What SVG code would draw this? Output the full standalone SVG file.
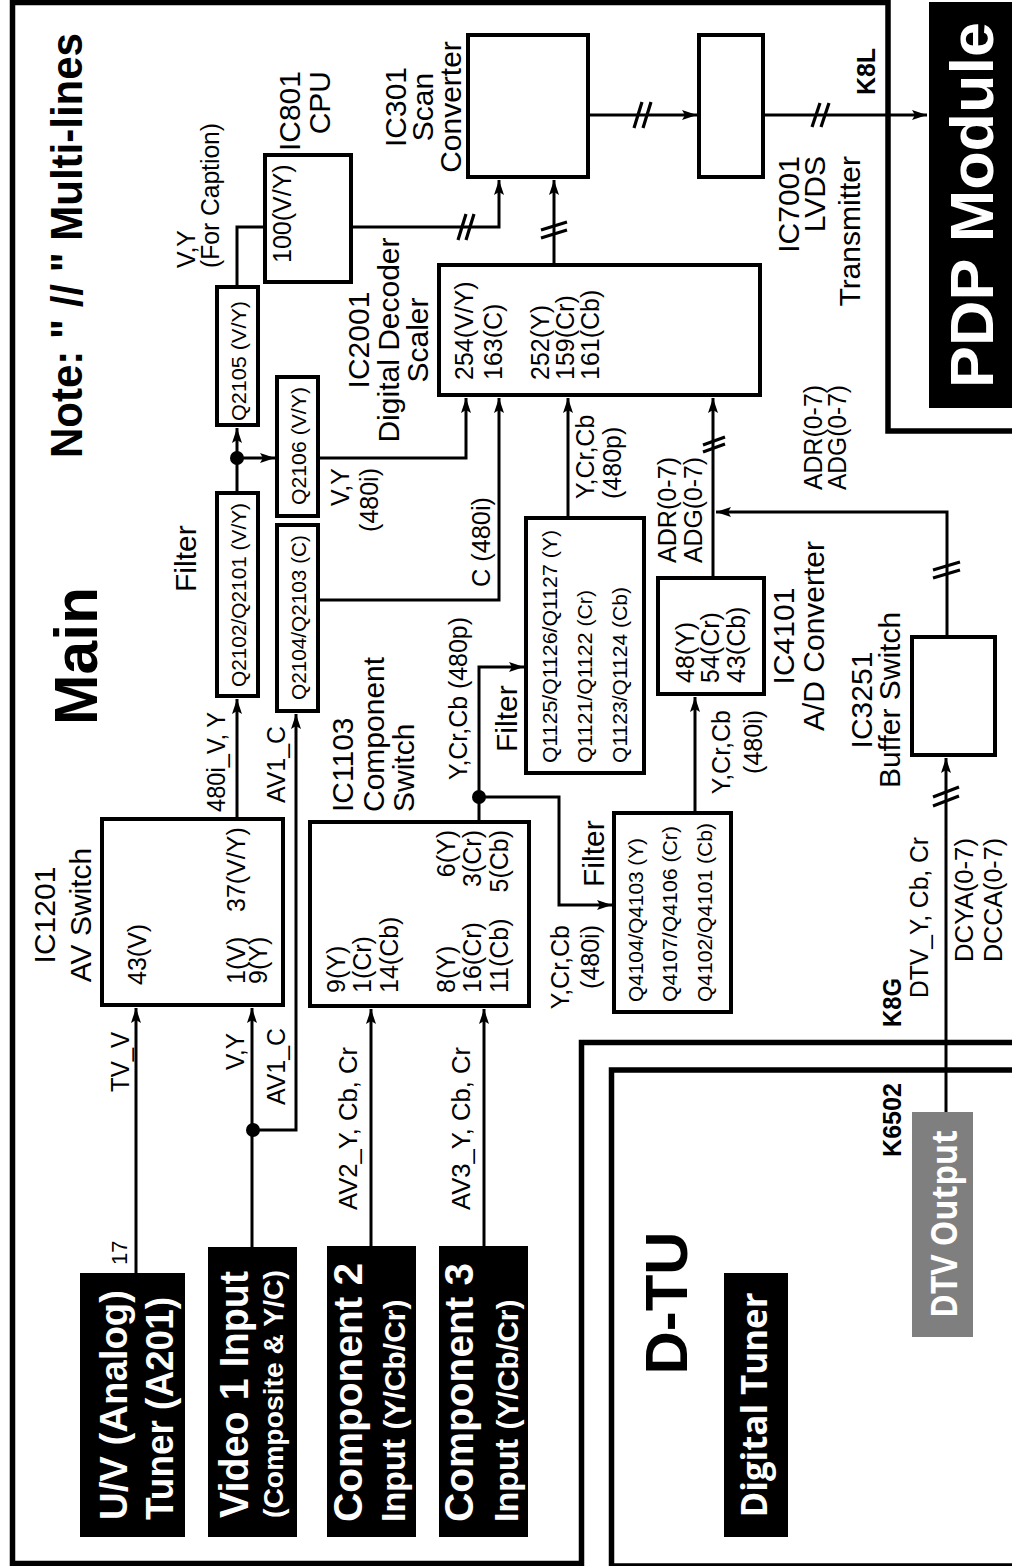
<svg xmlns="http://www.w3.org/2000/svg" width="1012" height="1566" viewBox="0 0 1012 1566">
<defs>
<style>
text { font-family: "Liberation Sans", Arial, Helvetica, sans-serif; fill: #000; }
.os { font-family: "Open Sans", "Liberation Sans", Arial, sans-serif; }
.n30 { font-size: 30px; }
.s25 { font-size: 25px; }
.q21 { font-size: 21px; }
.b { font-weight: bold; }
.w { fill: #fff; }
.m { text-anchor: middle; }
.e { text-anchor: end; }
.box { fill: #fff; stroke: #000; stroke-width: 4; }
.blk { fill: #000; }
.gry { fill: #7f7f7f; }
.ln { fill: none; stroke: #000; stroke-width: 3; }
.arr { marker-end: url(#ah); }
.sl { fill: none; stroke: #000; stroke-width: 3.2; }
.frame { fill: none; stroke: #000; stroke-width: 5.5; }
.dot { fill: #000; }
</style>
<marker id="ah" viewBox="0 0 15 10" refX="15" refY="5" markerWidth="15" markerHeight="10" markerUnits="userSpaceOnUse" orient="auto">
<path d="M0,0 L15,5 L0,10 L3,5 Z" fill="#000"/>
</marker>
</defs>
<rect x="0" y="0" width="1012" height="1566" fill="#fff"/>

<g id="frames">
<path class="frame" d="M1020,431 H888 V2.5 H12.5 V1563.5 H581.5 V1042.5 H1020"/>
<path class="frame" d="M1020,1070 H611.5 V1566 H1020"/>
</g>

<g id="titles">
<text class="b" font-size="44" transform="translate(82 458) rotate(-90)" textLength="425" lengthAdjust="spacingAndGlyphs">Note: " // " Multi-lines</text>
<text class="b m" font-size="62" transform="translate(97 656) rotate(-90)" textLength="138" lengthAdjust="spacingAndGlyphs">Main</text>
<text class="b m" font-size="60" transform="translate(687 1303) rotate(-90)" textLength="143" lengthAdjust="spacingAndGlyphs">D-TU</text>
</g>

<g id="pdp-module">
<rect class="blk" x="929" y="2" width="90" height="406"/>
<text class="b w m" font-size="62" transform="translate(993 205) rotate(-90)" textLength="366" lengthAdjust="spacingAndGlyphs">PDP Module</text>
</g>

<g id="digital-tuner">
<rect class="blk" x="724" y="1273" width="64" height="264"/>
<text class="b w m os" font-size="36" transform="translate(767 1405) rotate(-90)" textLength="225" lengthAdjust="spacingAndGlyphs">Digital Tuner</text>
</g>

<g id="dtv-output">
<rect class="gry" x="912" y="1112" width="61" height="225"/>
<text class="b w m os" font-size="36" transform="translate(957 1224) rotate(-90)" textLength="188" lengthAdjust="spacingAndGlyphs">DTV Output</text>
</g>

<g id="uv-tuner">
<rect class="blk" x="80" y="1273" width="105" height="264"/>
<text class="b w" font-size="38" transform="translate(127 1520) rotate(-90)" textLength="230" lengthAdjust="spacingAndGlyphs">U/V (Analog)</text>
<text class="b w" font-size="38" transform="translate(173 1520) rotate(-90)" textLength="223" lengthAdjust="spacingAndGlyphs">Tuner (A201)</text>
</g>

<g id="video1-input">
<rect class="blk" x="208" y="1247" width="89" height="290"/>
<text class="b w" font-size="40" transform="translate(248 1518) rotate(-90)" textLength="247" lengthAdjust="spacingAndGlyphs">Video 1 Input</text>
<text class="b w" font-size="28" transform="translate(283 1518) rotate(-90)" textLength="248" lengthAdjust="spacingAndGlyphs">(Composite &amp; Y/C)</text>
</g>

<g id="component2-input">
<rect class="blk" x="327" y="1246" width="89" height="291"/>
<text class="b w" font-size="40" transform="translate(362 1522) rotate(-90)" textLength="259" lengthAdjust="spacingAndGlyphs">Component 2</text>
<text class="b w" transform="translate(405 1522) rotate(-90)"><tspan font-size="34">Input </tspan><tspan font-size="30">(Y/Cb/Cr)</tspan></text>
</g>

<g id="component3-input">
<rect class="blk" x="439" y="1246" width="89" height="291"/>
<text class="b w" font-size="40" transform="translate(473 1522) rotate(-90)" textLength="259" lengthAdjust="spacingAndGlyphs">Component 3</text>
<text class="b w" transform="translate(518 1522) rotate(-90)"><tspan font-size="34">Input </tspan><tspan font-size="30">(Y/Cb/Cr)</tspan></text>
</g>

<g id="ic1201">
<rect class="box" x="102" y="819" width="181" height="186"/>
<text class="n30 m" transform="translate(55 915) rotate(-90)">IC1201</text>
<text class="n30 m" transform="translate(91 915) rotate(-90)">AV Switch</text>
<text class="s25" transform="translate(146 985) rotate(-90)">43(V)</text>
<text class="s25" transform="translate(245 984) rotate(-90)">1(V)</text>
<text class="s25" transform="translate(267 984) rotate(-90)">9(Y)</text>
<text class="s25" transform="translate(245 912) rotate(-90)">37(V/Y)</text>
</g>

<g id="ic1103">
<rect class="box" x="310" y="822" width="219" height="184"/>
<text class="n30" transform="translate(353 812) rotate(-90)">IC1103</text>
<text class="n30" transform="translate(384 812) rotate(-90)">Component</text>
<text class="n30" transform="translate(414 812) rotate(-90)">Switch</text>
<text class="s25" transform="translate(345 993) rotate(-90)">9(Y)</text>
<text class="s25" transform="translate(371 993) rotate(-90)">1(Cr)</text>
<text class="s25" transform="translate(398 993) rotate(-90)">14(Cb)</text>
<text class="s25" transform="translate(455 993) rotate(-90)">8(Y)</text>
<text class="s25" transform="translate(481 993) rotate(-90)">16(Cr)</text>
<text class="s25" transform="translate(508 993) rotate(-90)">11(Cb)</text>
<text class="s25 e" transform="translate(455 830) rotate(-90)">6(Y)</text>
<text class="s25 e" transform="translate(481 830) rotate(-90)">3(Cr)</text>
<text class="s25 e" transform="translate(508 830) rotate(-90)">5(Cb)</text>
</g>

<g id="q2102">
<rect class="box" x="217" y="493" width="41" height="203"/>
<text class="q21" transform="translate(246 687) rotate(-90)" textLength="184" lengthAdjust="spacingAndGlyphs">Q2102/Q2101 (V/Y)</text>
<text class="n30" transform="translate(196 592) rotate(-90)">Filter</text>
</g>

<g id="q2104">
<rect class="box" x="277" y="525" width="41" height="186"/>
<text class="q21" transform="translate(306 700) rotate(-90)" textLength="165" lengthAdjust="spacingAndGlyphs">Q2104/Q2103 (C)</text>
</g>

<g id="q2105">
<rect class="box" x="217" y="287" width="41" height="138"/>
<text class="q21" transform="translate(246 421) rotate(-90)" textLength="120" lengthAdjust="spacingAndGlyphs">Q2105 (V/Y)</text>
</g>

<g id="q2106">
<rect class="box" x="277" y="377" width="41" height="139"/>
<text class="q21" transform="translate(306 505) rotate(-90)" textLength="118" lengthAdjust="spacingAndGlyphs">Q2106 (V/Y)</text>
</g>

<g id="ic801">
<rect class="box" x="265" y="155" width="86" height="127"/>
<text class="n30 e" transform="translate(300 71) rotate(-90)">IC801</text>
<text class="n30 e" transform="translate(330 71) rotate(-90)">CPU</text>
<text class="s25" transform="translate(291 263) rotate(-90)">100(V/Y)</text>
</g>

<g id="ic2001">
<rect class="box" x="439" y="265" width="321" height="130"/>
<text class="n30 m" transform="translate(369 340) rotate(-90)">IC2001</text>
<text class="n30 m" transform="translate(399 340) rotate(-90)">Digital Decoder</text>
<text class="n30 m" transform="translate(428 340) rotate(-90)">Scaler</text>
<text class="s25" transform="translate(473 380) rotate(-90)">254(V/Y)</text>
<text class="s25" transform="translate(502 380) rotate(-90)">163(C)</text>
<text class="s25" transform="translate(549 380) rotate(-90)">252(Y)</text>
<text class="s25" transform="translate(574 380) rotate(-90)">159(Cr)</text>
<text class="s25" transform="translate(599 380) rotate(-90)">161(Cb)</text>
</g>

<g id="ic301">
<rect class="box" x="468" y="35" width="120" height="142"/>
<text class="n30 m" transform="translate(406 107) rotate(-90)">IC301</text>
<text class="n30 m" transform="translate(433 107) rotate(-90)">Scan</text>
<text class="n30 m" transform="translate(461 107) rotate(-90)">Converter</text>
</g>

<g id="ic7001">
<rect class="box" x="699" y="35" width="64" height="142"/>
<text class="n30 e" transform="translate(799 156) rotate(-90)">IC7001</text>
<text class="n30 e" transform="translate(825 156) rotate(-90)">LVDS</text>
<text class="n30 e" transform="translate(860 156) rotate(-90)">Transmitter</text>
</g>

<g id="q1125">
<rect class="box" x="526" y="518" width="118" height="255"/>
<text class="q21" transform="translate(557 763) rotate(-90)" textLength="233" lengthAdjust="spacingAndGlyphs">Q1125/Q1126/Q1127 (Y)</text>
<text class="q21" transform="translate(592 763) rotate(-90)" textLength="173" lengthAdjust="spacingAndGlyphs">Q1121/Q1122 (Cr)</text>
<text class="q21" transform="translate(627 763) rotate(-90)" textLength="176" lengthAdjust="spacingAndGlyphs">Q1123/Q1124 (Cb)</text>
<text class="n30" transform="translate(517 752) rotate(-90)">Filter</text>
</g>

<g id="q4104">
<rect class="box" x="614" y="813" width="117" height="199"/>
<text class="q21" transform="translate(643 1002) rotate(-90)" textLength="164" lengthAdjust="spacingAndGlyphs">Q4104/Q4103 (Y)</text>
<text class="q21" transform="translate(677 1002) rotate(-90)" textLength="176" lengthAdjust="spacingAndGlyphs">Q4107/Q4106 (Cr)</text>
<text class="q21" transform="translate(712 1002) rotate(-90)" textLength="179" lengthAdjust="spacingAndGlyphs">Q4102/Q4101 (Cb)</text>
<text class="n30" transform="translate(604 887) rotate(-90)">Filter</text>
</g>

<g id="ic4101">
<rect class="box" x="658" y="578" width="106" height="116"/>
<text class="n30 m" transform="translate(794 636) rotate(-90)">IC4101</text>
<text class="n30 m" transform="translate(824 636) rotate(-90)">A/D Converter</text>
<text class="s25" transform="translate(694 683) rotate(-90)">48(Y)</text>
<text class="s25" transform="translate(719 683) rotate(-90)">54(Cr)</text>
<text class="s25" transform="translate(745 683) rotate(-90)">43(Cb)</text>
</g>

<g id="ic3251">
<rect class="box" x="912" y="637" width="83" height="118"/>
<text class="n30 m" transform="translate(872 700) rotate(-90)">IC3251</text>
<text class="n30 m" transform="translate(900 700) rotate(-90)">Buffer Switch</text>
</g>

<g id="connectors">
<path class="ln arr" d="M136,1273 V1008"/>
<path class="ln arr" d="M252,1247 V1008"/>
<path class="ln arr" d="M253,1130 H296 V714"/>
<path class="ln arr" d="M237,819 V699"/>
<path class="ln arr" d="M237,493 V428"/>
<path class="ln arr" d="M237,458 H275"/>
<path class="ln" d="M237,287 V227 H265"/>
<path class="ln arr" d="M351,227 H499 V180"/>
<path class="ln arr" d="M318,458 H466 V398"/>
<path class="ln arr" d="M318,600 H499 V398"/>
<path class="ln arr" d="M479,822 V667 H524"/>
<path class="ln arr" d="M479,797 H559 V905 H612"/>
<path class="ln arr" d="M568,518 V398"/>
<path class="ln arr" d="M695,813 V697"/>
<path class="ln arr" d="M713,578 V398"/>
<path class="ln arr" d="M947,637 V512 H716"/>
<path class="ln arr" d="M554,265 V180"/>
<path class="ln arr" d="M588,115 H697"/>
<path class="ln arr" d="M763,115 H927"/>
<path class="ln arr" d="M946,1112 V758"/>
<path class="ln arr" d="M371,1246 V1009"/>
<path class="ln arr" d="M484,1246 V1009"/>
<circle class="dot" cx="253" cy="1130" r="7"/>
<circle class="dot" cx="237" cy="458" r="7"/>
<circle class="dot" cx="479" cy="797" r="7"/>
<path class="sl" d="M541,230 L567,222 M541,238 L567,230"/>
<path class="sl" d="M458,240 L466,214 M466,240 L474,214"/>
<path class="sl" d="M634,128 L642,102 M643,128 L651,102"/>
<path class="sl" d="M812,127 L820,103 M821,127 L829,103"/>
<path class="sl" d="M703,445 L725,437 M703,452 L725,444"/>
<path class="sl" d="M933,570 L960,562 M933,578 L960,570"/>
<path class="sl" d="M933,797 L959,787 M933,806 L959,796"/>
<text style="font-size:22px" transform="translate(127 1265) rotate(-90)">17</text>
<text class="s25" transform="translate(129 1092) rotate(-90)" textLength="60" lengthAdjust="spacingAndGlyphs">TV_V</text>
<text class="s25" transform="translate(244 1070) rotate(-90)" textLength="37" lengthAdjust="spacingAndGlyphs">V,Y</text>
<text class="s25" transform="translate(285 1105) rotate(-90)" textLength="77" lengthAdjust="spacingAndGlyphs">AV1_C</text>
<text class="s25" transform="translate(225 812) rotate(-90)" textLength="100" lengthAdjust="spacingAndGlyphs">480i_V, Y</text>
<text class="s25" transform="translate(285 803) rotate(-90)" textLength="77" lengthAdjust="spacingAndGlyphs">AV1_C</text>
<text class="s25" transform="translate(357 1210) rotate(-90)" textLength="163" lengthAdjust="spacingAndGlyphs">AV2_Y, Cb, Cr</text>
<text class="s25" transform="translate(470 1210) rotate(-90)" textLength="163" lengthAdjust="spacingAndGlyphs">AV3_Y, Cb, Cr</text>
<text class="s25" transform="translate(467 780) rotate(-90)" textLength="163" lengthAdjust="spacingAndGlyphs">Y,Cr,Cb (480p)</text>
<text class="s25 e" transform="translate(569 925) rotate(-90)">Y,Cr,Cb</text>
<text class="s25 e" transform="translate(599 925) rotate(-90)">(480i)</text>
<text class="s25 e" transform="translate(730 710) rotate(-90)">Y,Cr,Cb</text>
<text class="s25 e" transform="translate(762 710) rotate(-90)">(480i)</text>
<text class="s25" transform="translate(195 268) rotate(-90)">V,Y</text>
<text class="s25" transform="translate(219 268) rotate(-90)" textLength="145" lengthAdjust="spacingAndGlyphs">(For Caption)</text>
<text class="s25 e" transform="translate(349 468) rotate(-90)">V,Y</text>
<text class="s25 e" transform="translate(378 468) rotate(-90)">(480i)</text>
<text class="s25" transform="translate(490 587) rotate(-90)" textLength="90" lengthAdjust="spacingAndGlyphs">C (480i)</text>
<text class="s25" transform="translate(594 499) rotate(-90)">Y,Cr,Cb</text>
<text class="s25" transform="translate(621 499) rotate(-90)">(480p)</text>
<text class="s25" transform="translate(676 563) rotate(-90)" textLength="106" lengthAdjust="spacingAndGlyphs">ADR(0-7)</text>
<text class="s25" transform="translate(702 563) rotate(-90)" textLength="106" lengthAdjust="spacingAndGlyphs">ADG(0-7)</text>
<text class="s25" transform="translate(822 490) rotate(-90)" textLength="105" lengthAdjust="spacingAndGlyphs">ADR(0-7)</text>
<text class="s25" transform="translate(846 490) rotate(-90)" textLength="105" lengthAdjust="spacingAndGlyphs">ADG(0-7)</text>
<text class="s25" transform="translate(928 998) rotate(-90)" textLength="161" lengthAdjust="spacingAndGlyphs">DTV_Y, Cb, Cr</text>
<text class="s25" transform="translate(973 962) rotate(-90)" textLength="124" lengthAdjust="spacingAndGlyphs">DCYA(0-7)</text>
<text class="s25" transform="translate(1002 962) rotate(-90)" textLength="124" lengthAdjust="spacingAndGlyphs">DCCA(0-7)</text>
<text class="b" font-size="25" transform="translate(901 1027) rotate(-90)" textLength="49" lengthAdjust="spacingAndGlyphs">K8G</text>
<text class="b" font-size="25" transform="translate(901 1157) rotate(-90)" textLength="74" lengthAdjust="spacingAndGlyphs">K6502</text>
<text class="b" font-size="25" transform="translate(875 95) rotate(-90)" textLength="47" lengthAdjust="spacingAndGlyphs">K8L</text>
</g>
</svg>
